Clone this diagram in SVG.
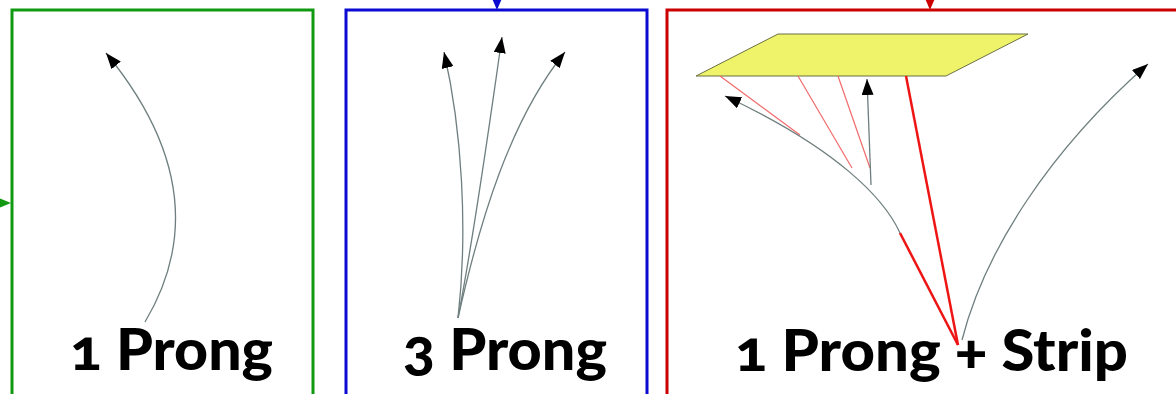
<svg xmlns="http://www.w3.org/2000/svg" width="1176" height="394" viewBox="0 0 1176 394">
<style>
.lbl{font-family:Lato,"Liberation Sans",sans-serif;font-weight:900;font-size:58px;fill:#000;font-variant-numeric:oldstyle-nums;}
.prong{fill:none;stroke:#6f7f7f;stroke-width:1.3;}
.pink{fill:none;stroke:#f26a6a;stroke-width:1.2;}
.red{fill:none;stroke:#ee1515;stroke-width:2.5;}
</style>
<defs>
<marker id="ah" viewBox="0 0 16 12" refX="16" refY="6" markerWidth="16" markerHeight="12" markerUnits="userSpaceOnUse" orient="auto">
<path d="M0,0 L16,6 L0,12 Z" fill="#000"/>
</marker>
</defs>
<rect width="1176" height="394" fill="#fff"/>
<g id="panel1">
<rect x="12" y="10" width="301" height="400" fill="none" stroke="#119911" stroke-width="3"/>
<polygon points="-4,197 11,203 -4,209" fill="#119911"/>
<text class="lbl" x="70" y="370" textLength="203" lengthAdjust="spacingAndGlyphs">1 Prong</text>
</g>
<g id="panel2">
<rect x="346" y="10" width="301" height="400" fill="none" stroke="#0a0ad2" stroke-width="3"/>
<polygon points="491,-4 503,-4 497,10" fill="#0a0ad2"/>
<text class="lbl" x="403" y="370" textLength="204" lengthAdjust="spacingAndGlyphs">3 Prong</text>
</g>
<g id="panel3">
<rect x="667" y="10" width="520" height="400" fill="none" stroke="#cc0000" stroke-width="3"/>
<polygon points="924,-4 936,-4 930,10" fill="#cc0000"/>
<polygon id="strip" points="778,34 1028,34 946,76 696,76" fill="#eef36a" stroke="#6b7040" stroke-width="1"/>
<text class="lbl" x="735" y="371" textLength="393" lengthAdjust="spacingAndGlyphs">1 Prong + Strip</text>
</g>
<g id="connectors">
<path class="prong" d="M145,322 C185,255 198,165 106,53" marker-end="url(#ah)"/>
<path class="prong" d="M458,318 C468,230 462,130 444,52" marker-end="url(#ah)"/>
<path class="prong" d="M458,318 C475,230 490,120 502,37" marker-end="url(#ah)"/>
<path class="prong" d="M458,318 C480,220 510,120 565,52" marker-end="url(#ah)"/>
<path class="pink" d="M720,76 L800,135"/>
<path class="pink" d="M798,76 L852,168"/>
<path class="pink" d="M838,76 L870,168"/>
<path class="prong" d="M958,345 L900,233 C885,200 840,150 725,96" marker-end="url(#ah)"/>
<path class="prong" d="M871,185 L867,79" marker-end="url(#ah)"/>
<path class="prong" d="M962,340 C985,250 1050,150 1148,64" marker-end="url(#ah)"/>
<path class="red" d="M906,76 L958,345"/>
<path class="red" d="M900,233 L958,345"/>
</g>
</svg>
